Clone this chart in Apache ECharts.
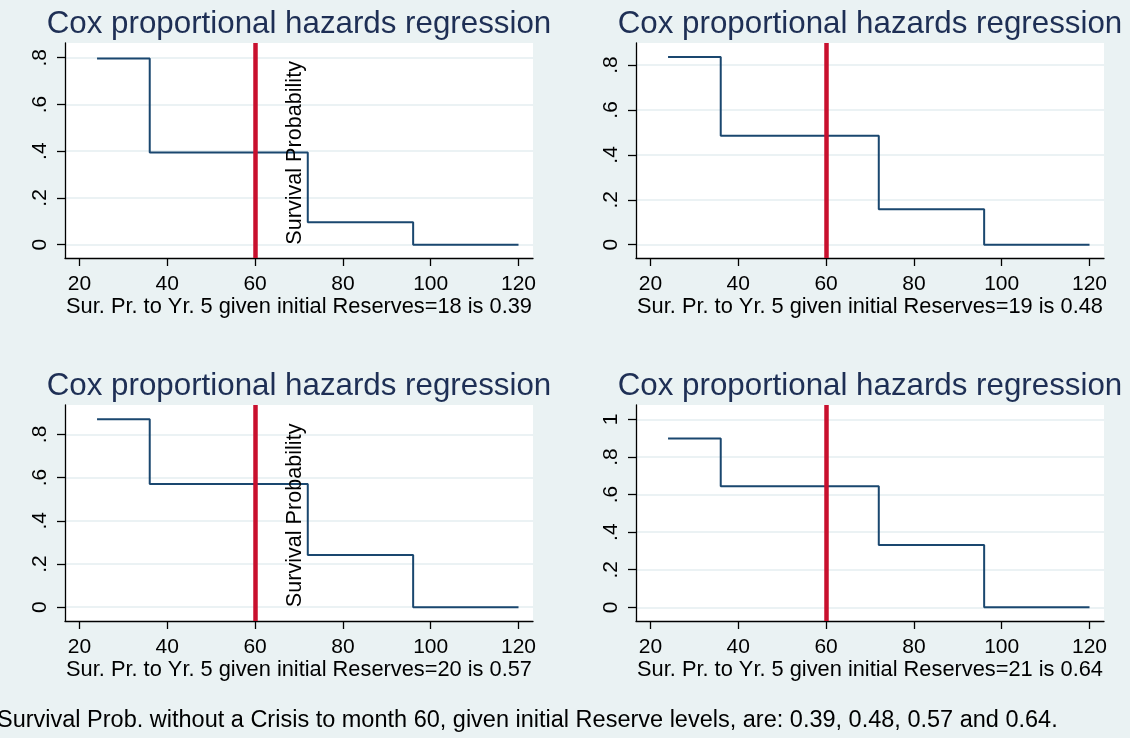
<!DOCTYPE html>
<html>
<head>
<meta charset="utf-8">
<script src="https://cdn.jsdelivr.net/npm/echarts@6/dist/echarts.min.js"></script>
<style>
html,body{margin:0;padding:0;background:#eaf2f3;}
#c{width:1130px;height:738px;}
</style>
</head>
<body>
<div id="c"></div>
<script>
// ---- data ----
const months = [24, 36, 72, 96, 120];
const surv18 = [0.797, 0.394, 0.096, 0, 0];
const surv19 = [0.836, 0.485, 0.158, 0, 0];
const surv20 = [0.870, 0.570, 0.241, 0, 0];
const surv21 = [0.898, 0.645, 0.332, 0, 0];
const reserves = [18, 19, 20, 21];
const results = ['0.39', '0.48', '0.57', '0.64'];
const xTicks = [20, 40, 60, 80, 100, 120];
const yTicksA = [0, 0.2, 0.4, 0.6, 0.8];
const yLabelsA = ['0', '.2', '.4', '.6', '.8'];
const yTicksB = [0, 0.2, 0.4, 0.6, 0.8, 1];
const yLabelsB = ['0', '.2', '.4', '.6', '.8', '1'];
const crisisMonth = 60;
const panelTitle = 'Cox proportional hazards regression';
const yTitle = 'Survival Probability';
const note = 'Survival Prob. without a Crisis to month 60, given initial Reserve levels, are: 0.39, 0.48, 0.57 and 0.64.';

const FONT = '"Liberation Sans", Arial, sans-serif';
const panels = [
  {vals: surv18, yt: yTicksA, yl: yLabelsA, ymin: -0.057, ymax: 0.863, left: 65, top: 43, h: 215, showYT: true},
  {vals: surv19, yt: yTicksA, yl: yLabelsA, ymin: -0.059, ymax: 0.898, left: 636, top: 43, h: 215, showYT: false},
  {vals: surv20, yt: yTicksA, yl: yLabelsA, ymin: -0.064, ymax: 0.936, left: 65, top: 405, h: 216, showYT: true},
  {vals: surv21, yt: yTicksB, yl: yLabelsB, ymin: -0.073, ymax: 1.077, left: 636, top: 405, h: 216, showYT: false}
];
const W = 468;

function lookupLabel(ticks, labels) {
  return function (v) {
    const n = Number(v);
    for (let k = 0; k < ticks.length; k++) {
      if (Math.abs(ticks[k] - n) < 1e-6) return labels[k];
    }
    return '';
  };
}

const grids = [], xAxes = [], yAxes = [], series = [], titles = [];
panels.forEach((p, i) => {
  grids.push({left: p.left, top: p.top, width: W, height: p.h, show: true,
    backgroundColor: '#ffffff', borderWidth: 0});
  titles.push({text: panelTitle, left: p.left + W / 2 - 5, top: p.top - 39, textAlign: 'center',
    textStyle: {fontFamily: FONT, fontSize: 31.3, fontWeight: 'normal', color: '#1e2f55'}});
  xAxes.push({type: 'value', gridIndex: i, min: 16.7, max: 123.3,
    name: 'Sur. Pr. to Yr. 5 given initial Reserves=' + reserves[i] + ' is ' + results[i],
    nameLocation: 'middle', nameGap: 36,
    nameTextStyle: {fontFamily: FONT, fontSize: 21.8, color: '#000'},
    axisLine: {show: true, onZero: false, lineStyle: {color: '#000', width: 1.3}},
    axisTick: {show: true, length: 8, customValues: xTicks, lineStyle: {color: '#000', width: 1.3}},
    axisLabel: {customValues: xTicks, margin: 16, fontFamily: FONT, fontSize: 21, color: '#000'},
    splitLine: {show: false}});
  yAxes.push({type: 'value', gridIndex: i, min: p.ymin, max: p.ymax,
    axisLine: {show: true, onZero: false, lineStyle: {color: '#000', width: 1.3}},
    axisTick: {show: true, length: 8, customValues: p.yt, lineStyle: {color: '#000', width: 1.3}},
    axisLabel: {customValues: p.yt, rotate: 90, margin: 14, fontFamily: FONT, fontSize: 21, color: '#000',
      formatter: lookupLabel(p.yt, p.yl)},
    splitLine: {show: true, lineStyle: {color: '#e4eef0', width: 1.5}}});
  // crisis line (drawn beneath the step line)
  series.push({type: 'line', xAxisIndex: i, yAxisIndex: i, data: [], z: 1, silent: true,
    markLine: {silent: true, symbol: 'none', label: {show: false},
      lineStyle: {color: '#c8102e', width: 4.5, type: 'solid'},
      data: [{xAxis: crisisMonth}]}});
  const s = {type: 'line', xAxisIndex: i, yAxisIndex: i, step: 'end', z: 3,
    data: months.map((m, k) => [m, p.vals[k]]), showSymbol: false, symbol: 'none',
    lineStyle: {color: '#1a476f', width: 2}};
  if (p.showYT) {
    s.markPoint = {symbol: 'circle', symbolSize: 0, silent: true,
      data: [{coord: [69, 0]}],
      label: {show: true, formatter: yTitle, rotate: 90, position: 'inside', align: 'left', verticalAlign: 'middle',
        fontFamily: FONT, fontSize: 21.6, color: '#000'}};
  }
  series.push(s);
});

const chart = echarts.init(document.getElementById('c'), null, {renderer: 'canvas'});
chart.setOption({
  backgroundColor: '#eaf2f3',
  animation: false,
  title: titles,
  grid: grids, xAxis: xAxes, yAxis: yAxes, series: series,
  graphic: [{type: 'text', left: -3, top: 709,
    style: {text: note, fontFamily: FONT, fontSize: 23.5, fill: '#000'}}]
});
</script>
</body>
</html>
